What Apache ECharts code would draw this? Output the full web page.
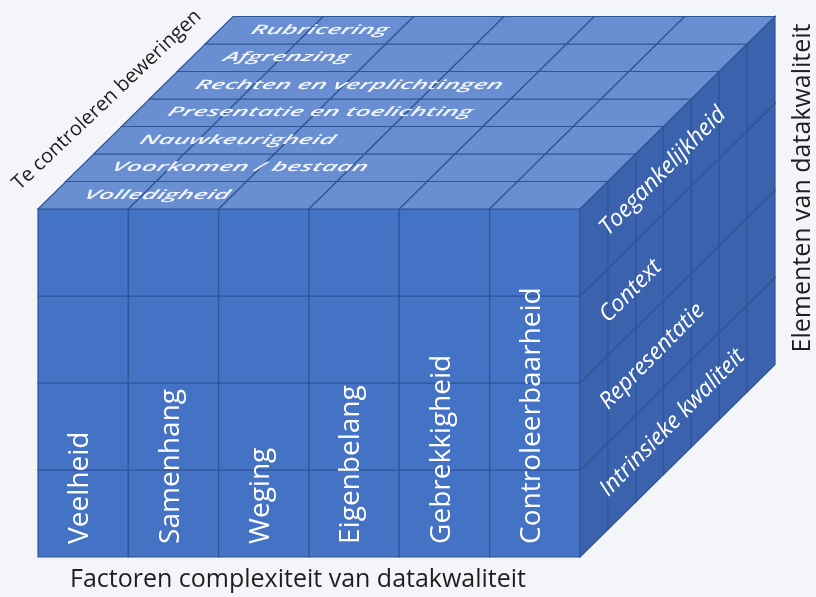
<!DOCTYPE html>
<html>
<head>
<meta charset="utf-8">
<script src="https://cdn.jsdelivr.net/npm/echarts@6/dist/echarts.min.js"></script>
<style>
html,body{margin:0;padding:0;background:#f4f5f8;}
#chart{width:816px;height:597px;}
</style>
</head>
<body>
<div id="chart"></div>
<script>
// ---- data (labels of the three cube dimensions) ----
const factors = ['Veelheid', 'Samenhang', 'Weging', 'Eigenbelang', 'Gebrekkigheid', 'Controleerbaarheid'];
const assertions = ['Volledigheid', 'Voorkomen / bestaan', 'Nauwkeurigheid', 'Presentatie en toelichting', 'Rechten en verplichtingen', 'Afgrenzing', 'Rubricering'];
const elements = ['Intrinsieke kwaliteit', 'Representatie', 'Context', 'Toegankelijkheid'];
const xTitle = 'Factoren complexiteit van datakwaliteit';
const yTitle = 'Elementen van datakwaliteit';
const zTitle = 'Te controleren beweringen';

// ---- geometry / style ----
const COLS = factors.length, ROWS = elements.length, DEPTH = assertions.length;
const DX = 0.3084, DY = 0.3161;          // oblique depth step in axis units
const FONT = '"Open Sans", "Noto Sans", sans-serif';
const C_FRONT = '#4472c4', C_TOP = '#6a8ed2', C_RIGHT = '#3a62ad', C_LINE = '#2f5597';
const DEPTH_ANGLE = Math.atan2(DY * 87, DX * 90.33);

function P(c, r, d) { return [c + d * DX, r + d * DY]; }

const cells = [];
for (let r = 0; r < ROWS; r++) for (let c = 0; c < COLS; c++) cells.push([0, c, r]);
for (let d = 0; d < DEPTH; d++) for (let c = 0; c < COLS; c++) cells.push([1, c, d]);
for (let r = 0; r < ROWS; r++) for (let d = 0; d < DEPTH; d++) cells.push([2, d, r]);

const chart = echarts.init(document.getElementById('chart'), null, { renderer: 'canvas' });

chart.setOption({
  backgroundColor: '#f4f5f8',
  animation: false,
  grid: { left: 38, top: 209, width: 542, height: 348 },
  xAxis: { type: 'value', min: 0, max: COLS, show: false },
  yAxis: { type: 'value', min: 0, max: ROWS, show: false },
  series: [
    {
      type: 'custom',
      data: cells,
      clip: false,
      silent: true,
      renderItem: function (params, api) {
        const face = api.value(0), i = api.value(1), j = api.value(2);
        let pts, fill;
        if (face === 0) {
          pts = [P(i, j, 0), P(i + 1, j, 0), P(i + 1, j + 1, 0), P(i, j + 1, 0)]; fill = C_FRONT;
        } else if (face === 1) {
          pts = [P(i, ROWS, j), P(i + 1, ROWS, j), P(i + 1, ROWS, j + 1), P(i, ROWS, j + 1)]; fill = C_TOP;
        } else {
          pts = [P(COLS, j, i), P(COLS, j, i + 1), P(COLS, j + 1, i + 1), P(COLS, j + 1, i)]; fill = C_RIGHT;
        }
        return {
          type: 'polygon',
          shape: { points: pts.map(p => api.coord(p)) },
          style: { fill: fill, stroke: C_LINE, lineWidth: 1.2 }
        };
      }
    },
    {
      type: 'custom',
      data: factors.map((f, i) => [i]),
      clip: false,
      silent: true,
      renderItem: function (params, api) {
        const i = api.value(0);
        const pt = api.coord([i + 0.47, 0.15]);
        return {
          type: 'text', x: pt[0], y: pt[1], rotation: Math.PI / 2,
          style: { text: factors[i], fill: '#ffffff', font: '28px ' + FONT, align: 'left', verticalAlign: 'middle' }
        };
      }
    },
    {
      type: 'custom',
      data: assertions.map((a, d) => [d]),
      clip: false,
      silent: true,
      renderItem: function (params, api) {
        const d = api.value(0);
        const pt = api.coord(P(0.36, ROWS, d + 0.5));
        return {
          type: 'text', x: pt[0], y: pt[1], skewX: -0.4, scaleY: 0.5,
          style: { text: assertions[d], fill: 'rgba(255,255,255,0.9)', font: 'italic 600 26px ' + FONT, align: 'left', verticalAlign: 'middle' }
        };
      }
    },
    {
      type: 'custom',
      data: elements.map((e, r) => [r]),
      clip: false,
      silent: true,
      renderItem: function (params, api) {
        const r = api.value(0);
        const pt = api.coord(P(COLS, r + 0.47, 0.85));
        return {
          type: 'text', x: pt[0], y: pt[1], rotation: DEPTH_ANGLE + 0.015,
          style: { text: elements[r], fill: '#ffffff', font: 'italic 23px ' + FONT, align: 'left', verticalAlign: 'middle' }
        };
      }
    }
  ],
  graphic: [
    { type: 'text', x: 298, y: 580, silent: true,
      style: { text: xTitle, fill: '#1e1e1e', font: '25px ' + FONT, align: 'center', verticalAlign: 'middle' } },
    { type: 'text', x: 803, y: 188, rotation: Math.PI / 2, silent: true,
      style: { text: yTitle, fill: '#1e1e1e', font: '25px ' + FONT, align: 'center', verticalAlign: 'middle' } },
    { type: 'text', x: 107, y: 100, rotation: 43.5 * Math.PI / 180, silent: true,
      style: { text: zTitle, fill: '#1e1e1e', font: '20px ' + FONT, align: 'center', verticalAlign: 'middle' } }
  ]
});
</script>
</body>
</html>
